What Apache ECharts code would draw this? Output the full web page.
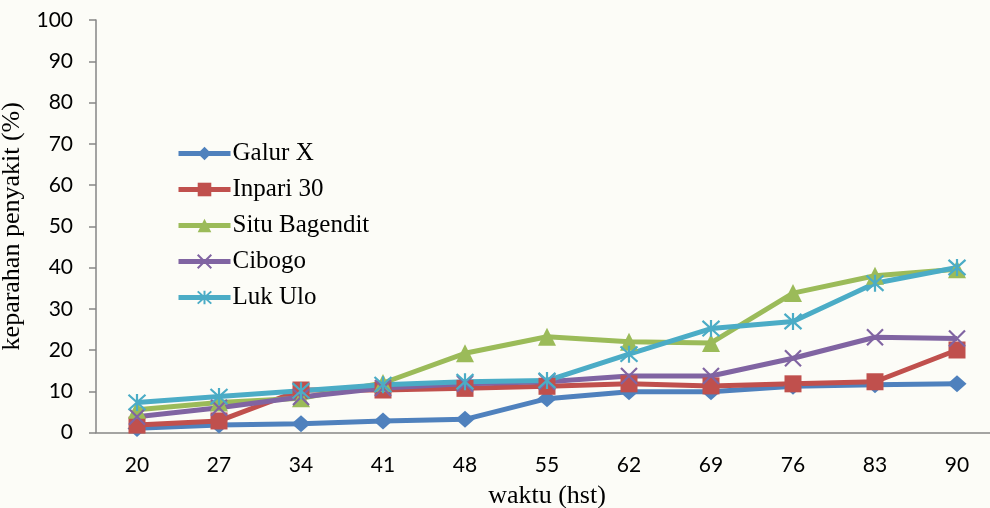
<!DOCTYPE html>
<html>
<head>
<meta charset="utf-8">
<script src="https://cdn.jsdelivr.net/npm/echarts@6/dist/echarts.min.js"></script>
<style>
  html, body { margin: 0; padding: 0; background: #fcfcf7; }
  #chart { width: 990px; height: 508px; }
</style>
</head>
<body>
<div id="chart"></div>
<script>
// Observation days (hari setelah tanam)
const days = ['20', '27', '34', '41', '48', '55', '62', '69', '76', '83', '90'];

// Disease severity (%) per variety
const galurX        = [1.0, 1.8, 2.1, 2.8, 3.2, 8.2, 9.9, 9.9, 11.2, 11.6, 11.8];
const inpari30      = [1.8, 2.8, 10.3, 10.3, 10.7, 11.2, 11.8, 11.3, 11.8, 12.3, 20.0];
const situBagendit  = [5.5, 7.3, 8.3, 12.0, 19.2, 23.2, 22.0, 21.7, 33.8, 38.0, 39.6];
const cibogo        = [3.8, 6.0, 8.6, 10.8, 11.8, 12.3, 13.7, 13.7, 18.0, 23.1, 22.8];
const lukUlo        = [7.3, 8.7, 10.1, 11.6, 12.3, 12.6, 19.0, 25.2, 26.9, 36.2, 40.0];

const yTicks = { min: 0, max: 100, interval: 10 };

const serif = 'Liberation Serif';
const sans = 'Lato';

const xSymbol = 'path://M0,0L10,10M10,0L0,10';
const starSymbol = 'path://M5,0L5,10M0.5,0.5L9.5,9.5M9.5,0.5L0.5,9.5';

function lineSeries(name, data, color, symbol, size, stroked) {
  return {
    name: name,
    type: 'line',
    data: data,
    symbol: symbol,
    symbolSize: size,
    showAllSymbol: true,
    lineStyle: { color: color, width: 5 },
    itemStyle: stroked
      ? { color: 'rgba(0,0,0,0)', borderColor: color, borderWidth: 2.2 }
      : { color: color },
    emphasis: { disabled: true },
    animation: false
  };
}

const chart = echarts.init(document.getElementById('chart'));
chart.setOption({
  backgroundColor: '#fcfcf7',
  grid: { left: 96, top: 20, width: 902, height: 412.5, containLabel: false, outerBoundsMode: 'none' },
  legend: {
    orient: 'vertical',
    left: 171,
    top: 136,
    itemWidth: 52,
    itemHeight: 17,
    itemGap: 11,
    lineStyle: { width: 5 },
    textStyle: { fontFamily: serif, fontSize: 25, lineHeight: 25, color: '#000', padding: [0, 0, 0, -3] },
    data: ['Galur X', 'Inpari 30', 'Situ Bagendit', 'Cibogo', 'Luk Ulo']
  },
  xAxis: {
    type: 'category',
    data: days,
    boundaryGap: true,
    name: 'waktu (hst)',
    nameLocation: 'middle',
    nameGap: 51,
    nameTextStyle: { fontFamily: serif, fontSize: 26, color: '#000' },
    axisLine: { lineStyle: { color: '#868686', width: 1.5 } },
    axisTick: { show: false },
    axisLabel: { fontFamily: sans, fontSize: 21, color: '#000', margin: 22 },
    splitLine: { show: false }
  },
  yAxis: {
    type: 'value',
    min: yTicks.min,
    max: yTicks.max,
    interval: yTicks.interval,
    name: 'keparahan penyakit (%)',
    nameLocation: 'middle',
    nameGap: 60,
    nameTextStyle: { fontFamily: serif, fontSize: 26, color: '#000' },
    axisLine: { show: true, lineStyle: { color: '#868686', width: 1.5 } },
    axisTick: { show: true, inside: false, length: 7, lineStyle: { color: '#868686', width: 1.5 } },
    axisLabel: { fontFamily: sans, fontSize: 21, color: '#000', margin: 23 },
    splitLine: { show: false }
  },
  series: [
    lineSeries('Galur X', galurX, '#4f81bd', 'diamond', [19, 17], false),
    lineSeries('Inpari 30', inpari30, '#c0504d', 'rect', 17, false),
    lineSeries('Situ Bagendit', situBagendit, '#9bbb59', 'triangle', 18, false),
    lineSeries('Cibogo', cibogo, '#8064a2', xSymbol, 16, true),
    lineSeries('Luk Ulo', lukUlo, '#4bacc6', starSymbol, 17, true)
  ]
});
</script>
</body>
</html>
